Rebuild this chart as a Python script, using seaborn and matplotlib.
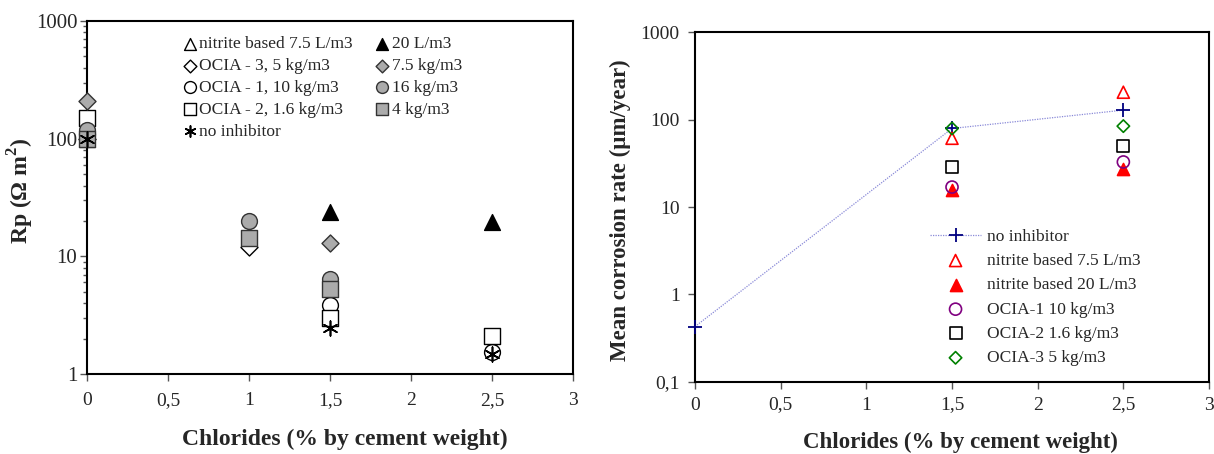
import matplotlib
matplotlib.use("Agg")
import matplotlib.pyplot as plt
from matplotlib.ticker import FixedLocator, FuncFormatter, LogLocator, NullLocator, NullFormatter
import seaborn as sns

# Left panel: polarisation resistance Rp (ohm m2) vs chlorides
rp_nitrite75_x = [0, 1.5, 2.5]
rp_nitrite75 = [100, 3.3, 1.75]
rp_nitrite20_x = [1.5, 2.5]
rp_nitrite20 = [23.6, 19.7]
rp_ocia3_5_x = [0, 1]
rp_ocia3_5 = [100, 12.1]
rp_ocia3_75_x = [0, 1.5]
rp_ocia3_75 = [208, 12.9]
rp_ocia1_10_x = [0, 1.5, 2.5]
rp_ocia1_10 = [110, 3.85, 1.55]
rp_ocia1_16_x = [0, 1, 1.5]
rp_ocia1_16 = [118, 20, 6.4]
rp_ocia2_16_x = [0, 1.5, 2.5]
rp_ocia2_16 = [150, 3.0, 2.1]
rp_ocia2_4_x = [0, 1, 1.5]
rp_ocia2_4 = [100, 14.3, 5.25]
rp_none_x = [0, 1.5, 2.5]
rp_none = [100, 2.45, 1.48]

# Right panel: mean corrosion rate (um/year) vs chlorides
cr_none_x = [0, 1.5, 2.5]
cr_none = [0.43, 79, 128]
cr_x = [1.5, 2.5]
cr_nitrite75 = [61, 205]
cr_nitrite20 = [15.6, 27]
cr_ocia1 = [16.9, 32.7]
cr_ocia2 = [29, 50]
cr_ocia3 = [79, 84]

sns.set_style("ticks")
plt.rcParams["font.family"] = ["Liberation Serif", "DejaVu Serif"]
plt.rcParams["mathtext.fontset"] = "custom"
plt.rcParams["mathtext.rm"] = "Liberation Serif"
plt.rcParams["mathtext.bf"] = "Liberation Serif:bold"

GREY = "#ababab"
EDGE = "#333333"
STAR = (6, 2, 0)

fig = plt.figure(figsize=(12.14, 4.54), dpi=100)
ax1 = fig.add_axes([0.0717, 0.1762, 0.4003, 0.7775])
ax2 = fig.add_axes([0.5725, 0.1586, 0.4234, 0.7709])

comma = FuncFormatter(lambda v, p: f"{v:g}".replace(".", ","))

# ---- left panel
left_series = [
    ("nitrite based 7.5 L/m3", rp_nitrite75_x, rp_nitrite75, "^", "white"),
    ("OCIA - 3, 5 kg/m3", rp_ocia3_5_x, rp_ocia3_5, "D", "white"),
    ("OCIA - 1, 10 kg/m3", rp_ocia1_10_x, rp_ocia1_10, "o", "white"),
    ("OCIA - 2, 1.6 kg/m3", rp_ocia2_16_x, rp_ocia2_16, "s", "white"),
    ("20 L/m3", rp_nitrite20_x, rp_nitrite20, "^", "black"),
    ("7.5 kg/m3", rp_ocia3_75_x, rp_ocia3_75, "D", GREY),
    ("16 kg/m3", rp_ocia1_16_x, rp_ocia1_16, "o", GREY),
    ("4 kg/m3", rp_ocia2_4_x, rp_ocia2_4, "s", GREY),
]
for name, xs, ys, mk, fc in left_series:
    size = 75 if mk == "D" else 130
    sns.scatterplot(x=xs, y=ys, ax=ax1, marker=mk, s=size, color=fc,
                    edgecolor="black" if fc != GREY else EDGE, linewidth=1,
                    label=name, zorder=3, clip_on=False)
sns.scatterplot(x=rp_none_x, y=rp_none, ax=ax1, marker=STAR, s=110, color="black",
                linewidth=1.2, label="no inhibitor", zorder=4, clip_on=False)

ax1.set_yscale("log")
ax1.set_xlim(0, 3)
ax1.set_ylim(1, 1000)
ax1.xaxis.set_major_locator(FixedLocator([0, 0.5, 1, 1.5, 2, 2.5, 3]))
ax1.xaxis.set_major_formatter(comma)
ax1.yaxis.set_major_locator(FixedLocator([1, 10, 100, 1000]))
ax1.yaxis.set_major_formatter(comma)
ax1.yaxis.set_minor_locator(LogLocator(base=10, subs=range(2, 10)))
ax1.yaxis.set_minor_formatter(NullFormatter())
ax1.tick_params(axis="y", which="minor", direction="out", length=3, width=1, color="#555555")

handles, labels = ax1.get_legend_handles_labels()
order = ["nitrite based 7.5 L/m3", "OCIA - 3, 5 kg/m3", "OCIA - 1, 10 kg/m3",
         "OCIA - 2, 1.6 kg/m3", "no inhibitor", "20 L/m3", "7.5 kg/m3", "16 kg/m3", "4 kg/m3"]
hmap = dict(zip(labels, handles))
ax1.legend([hmap[k] for k in order], order, ncol=2, frameon=False, loc="upper left",
           bbox_to_anchor=(0.179, 0.982), borderpad=0, fontsize=12.5,
           handlelength=0.8, handletextpad=0.15, columnspacing=1.3,
           labelspacing=0.33, markerscale=0.75)

ax1.set_xlabel("Chlorides (% by cement weight)", fontsize=17, fontweight="bold")
ax1.set_ylabel(r"Rp (Ω m$^{\mathbf{2}}$)", fontsize=17, fontweight="bold")
ax1.xaxis.set_label_coords(0.53, -0.156)
ax1.yaxis.set_label_coords(-0.105, 0.52)

# ---- right panel
sns.lineplot(x=cr_none_x, y=cr_none, ax=ax2, color="#8a8ad8", linewidth=0.9,
             linestyle=(0, (1, 1)), marker="+", markersize=10, markeredgewidth=1.3,
             markeredgecolor="#00007f", label="no inhibitor", zorder=3, clip_on=False)
right_series = [
    ("nitrite based 7.5 L/m3", cr_nitrite75, "^", "none", "red"),
    ("nitrite based 20 L/m3", cr_nitrite20, "^", "red", "red"),
    ("OCIA-1 10 kg/m3", cr_ocia1, "o", "none", "#800080"),
    ("OCIA-2 1.6 kg/m3", cr_ocia2, "s", "none", "black"),
    ("OCIA-3 5 kg/m3", cr_ocia3, "D", "none", "#008000"),
]
for name, ys, mk, fc, ec in right_series:
    size = 40 if mk == "D" else 75
    sns.scatterplot(x=cr_x, y=ys, ax=ax2, marker=mk, s=size, facecolor=fc,
                    edgecolor=ec, linewidth=1.2, label=name, zorder=3)

ax2.set_yscale("log")
ax2.set_xlim(0, 3)
ax2.set_ylim(0.1, 1000)
ax2.xaxis.set_major_locator(FixedLocator([0, 0.5, 1, 1.5, 2, 2.5, 3]))
ax2.xaxis.set_major_formatter(comma)
ax2.yaxis.set_major_locator(FixedLocator([0.1, 1, 10, 100, 1000]))
ax2.yaxis.set_major_formatter(comma)
ax2.yaxis.set_minor_locator(NullLocator())

ax2.legend(frameon=False, loc="upper left", bbox_to_anchor=(0.441, 0.463),
           borderpad=0, fontsize=12.5, handlelength=2.9, handletextpad=0.35,
           labelspacing=0.47)

ax2.set_xlabel("Chlorides (% by cement weight)", fontsize=16.5, fontweight="bold")
ax2.set_ylabel("Mean corrosion rate (µm/year)", fontsize=16.5, fontweight="bold")
ax2.xaxis.set_label_coords(0.516, -0.143)
ax2.yaxis.set_label_coords(-0.125, 0.49)

for ax in (ax1, ax2):
    for sp in ax.spines.values():
        sp.set_visible(True)
        sp.set_linewidth(1.5)
        sp.set_color("black")
    ax.tick_params(axis="both", which="major", direction="out", length=5, width=1,
                   labelsize=14, color="#555555")
    ax.grid(False)

ax1.tick_params(axis="y", which="major", labelsize=15, pad=2)
ax1.tick_params(axis="x", which="major", pad=8)
ax2.tick_params(axis="y", which="major", pad=6)
ax2.tick_params(axis="x", which="major", pad=5.5)

fig.savefig("out.png", dpi=100)
